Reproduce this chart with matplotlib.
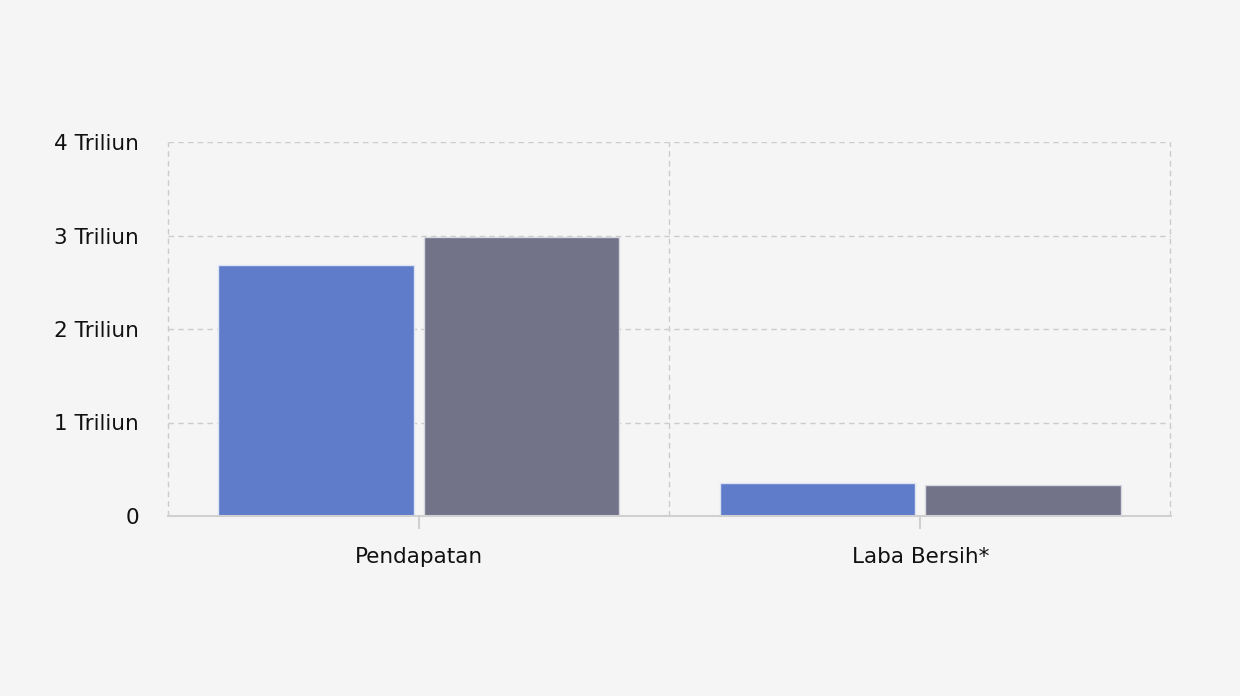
import numpy as np
import matplotlib.pyplot as plt

categories = ["Pendapatan", "Laba Bersih*"]
series_a = [2.68, 0.35]
series_b = [2.98, 0.33]
y_ticks = [0, 1, 2, 3, 4]
y_labels = ["0", "1 Triliun", "2 Triliun", "3 Triliun", "4 Triliun"]

bg = "#f5f5f5"
grid_col = "#cccccc"

fig = plt.figure(figsize=(12.4, 6.96), dpi=100, facecolor=bg)
ax = fig.add_axes([168 / 1240, 1 - 516 / 696, 1003 / 1240, 374 / 696])
ax.set_facecolor(bg)

x = np.arange(len(categories))
w = 0.39
ax.bar(x - 0.205, series_a, width=w, color="#5f7ccb", edgecolor="#dde3f3", linewidth=1, zorder=3)
ax.bar(x + 0.205, series_b, width=w, color="#727289", edgecolor="#d8d8e0", linewidth=1, zorder=3)

ax.set_xlim(-0.5, len(categories) - 0.5)
ax.set_ylim(0, 4)
ax.set_yticks(y_ticks)
ax.set_yticklabels(y_labels)
ax.set_xticks(x)
ax.set_xticklabels(categories)

ax.grid(axis="y", which="major", color=grid_col, linestyle=(0, (4, 3)), linewidth=1, zorder=0)
# category borders
for b in np.arange(-0.5, len(categories), 1.0):
    ax.axvline(b - 0.001 if b > 0 else b, color=grid_col, linestyle=(0, (4, 3)), linewidth=1,
               zorder=0, clip_on=False)

for s in ["top", "right", "left"]:
    ax.spines[s].set_visible(False)
ax.spines["bottom"].set_color("#d0d0d0")
ax.spines["bottom"].set_linewidth(1.5)
ax.spines["bottom"].set_zorder(4)

ax.tick_params(axis="y", length=0, pad=21, labelsize=15.5, labelcolor="#111111")
ax.tick_params(axis="x", which="major", length=9, width=1.5, color="#d0d0d0", pad=13,
               labelsize=15.5, labelcolor="#111111")

fig.savefig("out.png", dpi=100, facecolor=bg)
